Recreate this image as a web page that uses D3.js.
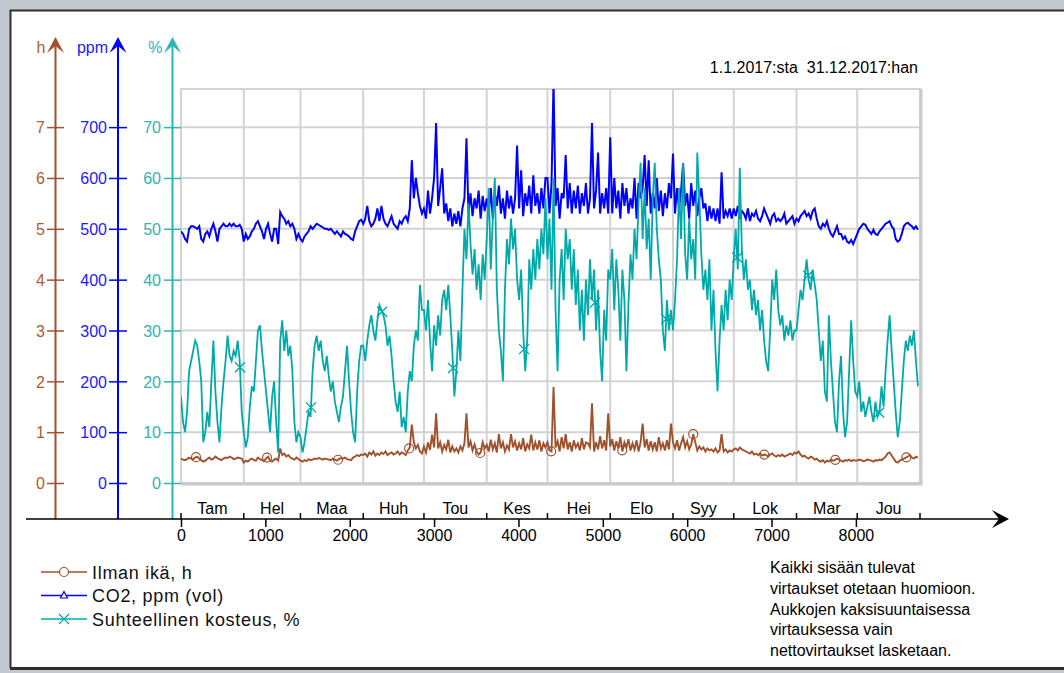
<!DOCTYPE html>
<html>
<head>
<meta charset="utf-8">
<script src="https://cdn.jsdelivr.net/npm/d3@7"></script>
<style>
body { margin: 0; background: #fff; }
svg { display: block; font-family: "Liberation Sans", Arial, sans-serif; }
</style>
</head>
<body>
<svg id="chart" width="1064" height="673"></svg>
<script>
// month labels (Finnish) and month boundaries in hours of year
var monthNames = ["Tam", "Hel", "Maa", "Huh", "Tou", "Kes", "Hei", "Elo", "Syy", "Lok", "Mar", "Jou"];
var monthStartHours = [0, 744, 1416, 2160, 2880, 3624, 4344, 5088, 5832, 6552, 7296, 8016, 8760];
var hourTicks = [0, 1000, 2000, 3000, 4000, 5000, 6000, 7000, 8000];
var ageTicks = [0, 1, 2, 3, 4, 5, 6, 7];
var co2Ticks = [0, 100, 200, 300, 400, 500, 600, 700];
var rhTicks = [0, 10, 20, 30, 40, 50, 60, 70];

// daily values (one per day, Jan 1 .. Dec 31)
var ageH = [
  .48,.46,.45,.47,.50,.48,.46,.50,.52,.48,.45,.42,.44,.47,.50,.46,.48,.52,.49,.47,.45,.48,.50,.49,.52,.50,.47,.48,.50,.49,.48,
  .40,.44,.42,.46,.48,.45,.44,.50,.47,.45,.43,.48,.52,.44,.42,.46,.48,.44,.68,.55,.58,.52,.55,.50,.48,.46,.50,.47,
  .44,.42,.45,.43,.47,.45,.46,.48,.47,.49,.48,.46,.48,.47,.46,.45,.48,.46,.44,.47,.49,.48,.50,.47,.46,.45,.50,.52,.55,.53,.56,
  .55,.58,.52,.60,.56,.62,.54,.58,.55,.60,.57,.62,.55,.58,.60,.56,.58,.62,.56,.60,.58,.55,.64,.70,1.15,.80,.68,.75,.62,.58,
  .72,.60,.80,.65,.95,.70,1.37,.68,.80,.62,.75,.66,.85,.60,.72,.62,.68,.60,.72,.64,.78,1.37,.70,.82,.64,.76,.62,.56,.60,.80,.68,
  .75,.62,.85,.66,.78,.60,.96,.68,.80,.62,.74,.66,.96,.70,.82,.64,.78,.66,.88,.62,.76,.68,.95,.64,.80,.66,.84,.62,.78,.70,
  .80,.64,.62,1.89,.70,.82,.62,.90,.68,.96,.66,.80,.62,.84,.70,.78,.64,.88,.66,.80,.78,.70,1.57,.62,.80,.66,.92,.68,.84,.64,1.37,
  .72,.86,.64,.82,.68,.90,.62,.80,.70,.86,.64,.78,.66,.84,.62,.80,1.17,.70,.86,.64,.82,.66,.80,.62,.90,.68,.78,.64,.84,.66,1.17,
  .80,.68,.84,.64,.78,.90,.70,.82,.66,.76,.96,.80,.64,.72,.66,.70,.62,.68,.64,.66,.62,.68,.60,.64,.96,.62,.66,.60,.64,.62,
  .66,.68,.64,.70,.66,.64,.62,.60,.58,.62,.56,.58,.55,.58,.54,.56,.55,.52,.56,.58,.54,.52,.55,.53,.56,.52,.54,.56,.58,.55,.60,
  .58,.62,.56,.52,.54,.50,.48,.52,.50,.46,.48,.44,.42,.45,.40,.44,.42,.46,.44,.45,.48,.46,.44,.42,.45,.44,.46,.43,.45,.44,
  .44,.46,.45,.43,.44,.46,.45,.44,.42,.45,.44,.46,.45,.48,.52,.58,.60,.54,.48,.42,.40,.44,.46,.48,.50,.52,.55,.50,.48,.52,.50
];
var co2Ppm = [
  495,490,480,475,500,505,505,503,500,505,480,475,490,495,485,500,510,495,475,500,505,510,505,505,510,505,510,505,505,508,500,
  475,490,480,485,495,500,510,515,505,495,480,500,510,490,475,500,500,470,533,525,520,510,515,505,510,500,480,490,
  480,475,485,490,495,505,500,505,510,508,505,503,500,500,498,500,495,490,495,490,485,495,490,488,485,480,478,495,505,515,518,
  510,520,545,515,505,510,520,540,515,545,520,510,505,515,525,510,505,500,515,510,520,525,515,540,635,560,600,570,545,530,
  540,520,575,530,560,600,708,545,580,619,530,550,515,540,505,530,510,535,505,540,560,678,530,570,525,560,540,575,520,565,535,
  560,530,580,520,570,545,585,530,560,520,575,540,565,530,560,664,540,615,525,570,545,585,530,605,545,570,530,580,540,600,
  600,530,590,790,545,580,520,570,560,645,540,590,530,575,540,585,530,570,545,590,530,560,708,540,575,650,530,570,540,580,530,
  680,530,600,540,575,520,590,545,580,530,560,540,600,520,590,560,580,645,545,635,530,570,540,600,535,575,525,570,540,590,560,
  648,530,580,540,575,629,545,570,520,590,545,575,525,560,580,540,550,515,545,520,540,515,540,510,611,520,535,525,540,520,
  540,525,545,520,535,530,520,540,515,530,525,535,520,515,525,540,530,520,510,525,530,515,520,515,520,530,510,515,520,525,510,
  520,515,525,530,535,525,530,520,535,540,520,505,500,510,505,515,500,490,485,495,505,490,490,480,485,475,472,478,470,480,
  490,500,505,510,508,500,495,490,498,490,488,495,500,505,510,512,515,505,500,480,475,478,490,505,510,512,508,505,500,505,498
];
var rhPct = [
  17,12,10,14,22,24,26,28,27,24,20,8,10,14,11,20,28,18,12,8,15,20,24,29,25,24,26,25,28,24,14,
  10,7,9,15,19,18,24,30,31,26,22,18,14,10,17,20,12,6,28,32,26,30,25,27,22,12,8,10,
  9,6,8,11,14,13,22,27,29,26,28,24,22,25,21,18,20,16,14,12,15,17,22,27,20,14,10,8,18,24,27,
  27,24,28,31,33,30,28,32,35,34,33,31,27,29,25,20,16,14,18,11,13,10,18,22,20,27,30,28,39,34,
  34,30,36,28,22,31,27,33,29,36,38,34,39,33,26,17,22,30,24,38,50,44,55,47,41,46,38,43,36,45,40,
  48,58,42,52,60,38,30,26,20,38,48,43,52,46,50,40,36,42,30,22,28,44,38,46,40,48,42,50,45,56,
  44,52,38,60,34,22,40,46,36,50,44,48,38,46,35,42,30,38,28,40,33,44,36,42,30,38,26,20,34,28,42,
  40,46,34,44,38,28,42,36,22,35,45,40,50,44,55,63,48,58,46,52,40,56,63,50,44,40,30,26,36,30,34,
  30,36,44,58,48,63,45,40,52,44,48,40,65,56,45,38,42,36,44,30,38,26,18,28,35,30,38,32,40,36,
  44,50,42,62,46,40,44,38,40,34,38,33,36,30,34,28,24,22,30,40,36,42,34,31,33,28,31,29,32,28,30,
  30,34,38,36,40,44,40,38,42,39,36,30,24,28,18,16,33,24,18,12,10,20,25,14,9,12,22,32,24,18,
  17,20,14,16,13,15,17,14,12,16,13,14,19,15,22,28,33,26,20,14,9,12,18,24,28,26,29,27,30,24,19
];

var legendItems = ["Ilman ikä, h", "CO2, ppm (vol)", "Suhteellinen kosteus, %"];
var noteLines = ["Kaikki sisään tulevat", "virtaukset otetaan huomioon.", "Aukkojen kaksisuuntaisessa",
                 "virtauksessa vain", "nettovirtaukset lasketaan."];

var cAge = "#a0522d", cAgeTxt = "#ac5c34";
var cCo2 = "#0000ff", cCo2Txt = "#1a1aff";
var cRh = "#00aaaa", cRhAxis = "#2cb5b5";

var svg = d3.select("#chart");

// window frame
svg.append("rect").attr("width", 1064).attr("height", 673).attr("fill", "#c2c9d1");
svg.append("rect").attr("x", 10).attr("y", 10).attr("width", 1060).attr("height", 657).attr("fill", "#fff");
svg.append("path").attr("d", "M10.5,668 V10.5 H1064").attr("fill", "none")
  .attr("stroke", "#2e2e2e").attr("stroke-width", 2);
svg.append("line").attr("x1", 10).attr("x2", 1064).attr("y1", 668.5).attr("y2", 668.5)
  .attr("stroke", "#2e2e2e").attr("stroke-width", 3);

// scales
var x = d3.scaleLinear().domain([0, 8760]).range([181, 920]);
var yRh = d3.scaleLinear().domain([0, 77.5]).range([483, 89]);
var yCo2 = d3.scaleLinear().domain([0, 775]).range([483, 89]);
var yAge = d3.scaleLinear().domain([0, 7.75]).range([483, 89]);

// grid
var grid = svg.append("g").attr("stroke", "#d3d3d3").attr("stroke-width", 2);
grid.selectAll("line.v").data(monthStartHours.slice(1, -1)).enter().append("line")
  .attr("x1", d => x(d)).attr("x2", d => x(d)).attr("y1", yRh.range()[1]).attr("y2", yRh.range()[0]);
grid.selectAll("line.h").data(rhTicks.slice(1)).enter().append("line")
  .attr("x1", x.range()[0]).attr("x2", x.range()[1]).attr("y1", d => yRh(d)).attr("y2", d => yRh(d));
svg.append("rect").attr("x", x.range()[0]).attr("y", yRh.range()[1])
  .attr("width", x.range()[1] - x.range()[0]).attr("height", yRh.range()[0] - yRh.range()[1])
  .attr("fill", "none").attr("stroke", "#d3d3d3").attr("stroke-width", 2);
svg.append("path")
  .attr("d", "M" + (x.range()[1] + 1) + "," + yRh.range()[1] + " V" + (yRh.range()[0] + 1) + " H" + x.range()[0])
  .attr("fill", "none").attr("stroke", "#c9c9c9").attr("stroke-width", 3);

// clip to plot area
svg.append("clipPath").attr("id", "clip").append("rect")
  .attr("x", x.range()[0]).attr("y", yRh.range()[1])
  .attr("width", x.range()[1] - x.range()[0]).attr("height", yRh.range()[0] - yRh.range()[1]);
var plot = svg.append("g").attr("clip-path", "url(#clip)");

function drawSeries(vals, y, color, w) {
  var line = d3.line().x((d, i) => x(i * 24)).y(d => y(d));
  plot.append("path").datum(vals).attr("d", line)
    .attr("fill", "none").attr("stroke", color).attr("stroke-width", w);
}
drawSeries(ageH, yAge, cAge, 1.9);
drawSeries(co2Ppm, yCo2, cCo2, 2);
drawSeries(rhPct, yRh, cRh, 1.8);

// value on the drawn line at a given hour
function valAt(vals, h) {
  var t = h / 24, i = Math.floor(t), f = t - i;
  var j = Math.min(i + 1, vals.length - 1);
  return vals[i] + (vals[j] - vals[i]) * f;
}

// series markers
var ageMarkHours = d3.range(178, 8760, 842);
var rhMarkHours = d3.range(699, 8760, 842);
plot.selectAll("circle.mk").data(ageMarkHours).enter().append("circle")
  .attr("cx", d => x(d)).attr("cy", d => yAge(valAt(ageH, d)))
  .attr("r", 4.5).attr("fill", "none").attr("stroke", cAge).attr("stroke-width", 1.2);
plot.selectAll("path.mk").data(rhMarkHours).enter().append("path")
  .attr("transform", d => "translate(" + x(d) + "," + yRh(valAt(rhPct, d)) + ")")
  .attr("d", "M-5,-5L5,5M-5,5L5,-5").attr("stroke", cRh).attr("stroke-width", 1.4);

// left axes
function leftAxis(xPos, scale, ticks, color, txtColor, title, tick, pad) {
  var g = svg.append("g").attr("transform", "translate(" + xPos + ",0)");
  g.call(d3.axisLeft(scale).tickValues(ticks).tickSize(tick).tickPadding(pad));
  g.attr("font-size", 16).attr("font-family", null);
  g.select(".domain").remove();
  g.selectAll(".tick line").attr("x1", tick).attr("x2", -tick).attr("stroke", color).attr("stroke-width", 1.5);
  g.selectAll(".tick text").attr("fill", txtColor).attr("dy", "0.36em");
  g.append("line").attr("y1", 519).attr("y2", 42).attr("stroke", color).attr("stroke-width", 2);
  g.append("path").attr("d", "M0,37 L-8.5,53 L0,46 L8.5,53 Z").attr("fill", color);
  g.append("text").attr("x", -10).attr("y", 53).attr("text-anchor", "end")
    .attr("fill", txtColor).text(title);
}
leftAxis(55.5, yAge, ageTicks, cAge, cAgeTxt, "h", 8.5, 2);
leftAxis(118, yCo2, co2Ticks, cCo2, cCo2Txt, "ppm", 9, 2);
leftAxis(172.5, yRh, rhTicks, cRhAxis, cRhAxis, "%", 8.5, 3);

// bottom axis
var xa = svg.append("g").attr("transform", "translate(0,519)");
xa.call(d3.axisBottom(x).tickValues(hourTicks).tickFormat(d3.format("d")).tickSize(8).tickPadding(3));
xa.attr("font-size", 16).attr("font-family", null);
xa.select(".domain").remove();
xa.selectAll(".tick line").attr("stroke", "#000").attr("stroke-width", 1.5);
xa.selectAll(".tick text").attr("fill", "#000");
xa.append("line").attr("x1", 26).attr("x2", 1004).attr("stroke", "#000").attr("stroke-width", 1.5);
xa.append("path").attr("d", "M1009,0 L992,-9 L999,0 L992,9 Z").attr("fill", "#000");
xa.selectAll("line.mt").data(monthStartHours).enter().append("line")
  .attr("x1", d => x(d)).attr("x2", d => x(d)).attr("y1", 0).attr("y2", -6)
  .attr("stroke", "#000").attr("stroke-width", 1.5);
xa.selectAll("text.mn").data(monthNames).enter().append("text")
  .attr("x", (d, i) => x((monthStartHours[i] + monthStartHours[i + 1]) / 2))
  .attr("y", -5).attr("text-anchor", "middle").attr("fill", "#000").text(d => d);

// period text
svg.append("text").attr("x", 918).attr("y", 73).attr("text-anchor", "end")
  .attr("font-size", 16).style("white-space", "pre").text("1.1.2017:sta  31.12.2017:han");

// legend
var legColors = [cAge, cCo2, cRh];
var leg = svg.append("g").attr("transform", "translate(41,572)");
var li = leg.selectAll("g").data(legendItems).enter().append("g")
  .attr("transform", (d, i) => "translate(0," + (i * 23.5) + ")");
li.append("line").attr("x1", 0).attr("x2", 46).attr("stroke", (d, i) => legColors[i]).attr("stroke-width", 1.4);
li.append("text").attr("x", 51).attr("y", 6.5).attr("font-size", 18).attr("letter-spacing", 0.7)
  .attr("fill", "#111").text(d => d);
leg.append("circle").attr("cx", 23).attr("cy", 0).attr("r", 4.5).attr("fill", "#fff")
  .attr("stroke", cAge).attr("stroke-width", 1.2);
leg.append("path").attr("transform", "translate(23,23.5)").attr("d", "M0,-4L3.5,2.5H-3.5Z")
  .attr("fill", "#fff").attr("stroke", cCo2).attr("stroke-width", 1.2);
leg.append("path").attr("transform", "translate(23,47)").attr("d", "M-5,-5L5,5M-5,5L5,-5")
  .attr("stroke", cRh).attr("stroke-width", 1.2);

// note text
svg.append("g").selectAll("text").data(noteLines).enter().append("text")
  .attr("x", 770).attr("y", (d, i) => 573 + i * 20.8).attr("font-size", 16).attr("fill", "#000")
  .text(d => d);
</script>
</body>
</html>
